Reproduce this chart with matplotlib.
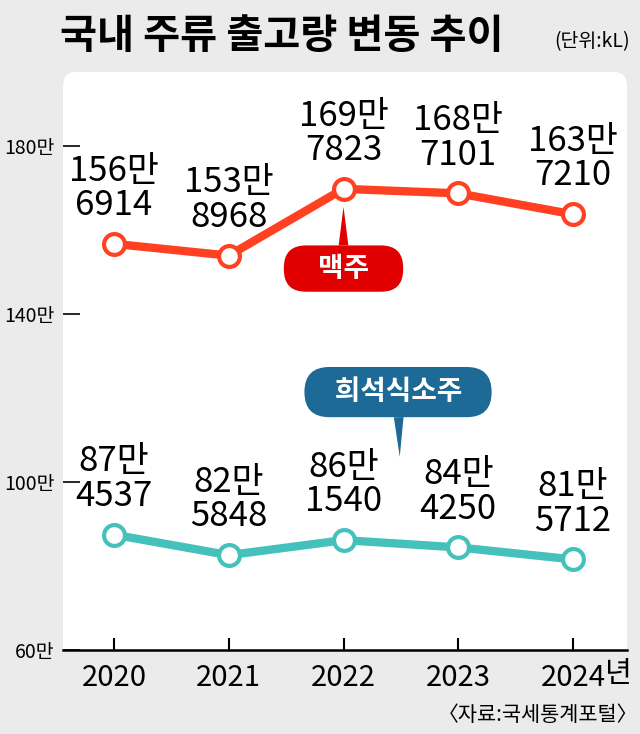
import matplotlib
matplotlib.use('Agg')
import matplotlib.pyplot as plt
from matplotlib.patches import FancyBboxPatch, Rectangle

plt.rcParams['font.family'] = ['Noto Sans CJK KR', 'DejaVu Sans']

# 데이터 (단위: kL)
years = [2020, 2021, 2022, 2023, 2024]
beer = [1566914, 1538968, 1697823, 1687101, 1637210]
soju = [874537, 825848, 861540, 844250, 815712]
ytick_vals = [60, 100, 140, 180]  # 만 kL

bg = '#ebebeb'
beer_c = '#ff4021'
soju_c = '#45c1bc'

fig = plt.figure(figsize=(6.4, 7.34), dpi=100, facecolor=bg)

# 흰색 둥근 배경 (아래쪽 모서리는 각지게)
box = FancyBboxPatch((63/640, 84/734), 564/640, 578/734,
                     boxstyle='round,pad=0,rounding_size=0.02',
                     transform=fig.transFigure, fc='white', ec='none', zorder=-2)
fig.patches.append(box)
fig.patches.append(Rectangle((63/640, 84/734), 564/640, 60/734,
                             transform=fig.transFigure, fc='white', ec='none', zorder=-2))

ax = fig.add_axes([63/640, 84/734, 564/640, 578/734])
ax.set_facecolor('none')

b = [v / 10000 for v in beer]
s = [v / 10000 for v in soju]

ax.plot(years, b, color=beer_c, lw=6, zorder=3, solid_capstyle='round')
ax.plot(years, s, color=soju_c, lw=6, zorder=3, solid_capstyle='round')
ax.plot(years, b, 'o', ms=15, mfc='white', mec=beer_c, mew=3, zorder=4)
ax.plot(years, s, 'o', ms=15, mfc='white', mec=soju_c, mew=3, zorder=4)

def label(x, v):
    ax.annotate(f'{v // 10000}만\n{v % 10000}', (x, v / 10000), xytext=(0, 15),
                textcoords='offset points', ha='center', va='bottom',
                fontsize=25, linespacing=0.98, color='black', zorder=5)

for x, v in zip(years, beer):
    label(x, v)
for x, v in zip(years, soju):
    label(x, v)

# 말풍선
ax.annotate('    맥주    ', xy=(2022, 165.5), xytext=(2022, 150.8),
            ha='center', va='center', fontsize=20, fontweight='bold', color='white',
            bbox=dict(boxstyle='round,pad=0.33,rounding_size=0.8', fc='#e10000', ec='none'),
            arrowprops=dict(arrowstyle='wedge,tail_width=0.35,shrink_factor=0.5',
                            fc='#e10000', ec='none', shrinkA=0, shrinkB=0),
            zorder=6)
ax.annotate('   희석식소주   ', xy=(2022.49, 106.0), xytext=(2022.475, 121.4),
            ha='center', va='center', fontsize=20, fontweight='bold', color='white',
            bbox=dict(boxstyle='round,pad=0.4,rounding_size=0.9', fc='#1d6a96', ec='none'),
            arrowprops=dict(arrowstyle='wedge,tail_width=0.35,shrink_factor=0.5',
                            fc='#1d6a96', ec='none', shrinkA=0, shrinkB=0),
            zorder=6)

ax.set_xlim(2019.556, 2024.47)
ax.set_ylim(60, 197.6)
ax.set_xticks(years)
ax.set_xticklabels([str(y) for y in years], fontsize=21)
ax.set_yticks(ytick_vals)
ax.set_yticklabels([f'{v}만' for v in ytick_vals], fontsize=14)
ax.tick_params(axis='x', direction='in', length=9, width=1.5, pad=9)
ax.tick_params(axis='y', direction='in', length=12, width=1.2, pad=6)
for sp in ['top', 'right', 'left']:
    ax.spines[sp].set_visible(False)
ax.spines['bottom'].set_linewidth(1.8)

fig.text(605/640, 1 - 674/734, '년', fontsize=21, ha='left', va='center')

fig.text(60/640, 1 - 37/734, '국내 주류 출고량 변동 추이', fontsize=29, fontweight='bold',
         ha='left', va='center')
fig.text(630/640, 1 - 42/734, '(단위:kL)', fontsize=14, ha='right', va='center')
fig.text(638/640, 1 - 715/734, '〈자료:국세통계포털〉', fontsize=15, ha='right', va='center')

fig.savefig('out.png', dpi=100, facecolor=bg)
